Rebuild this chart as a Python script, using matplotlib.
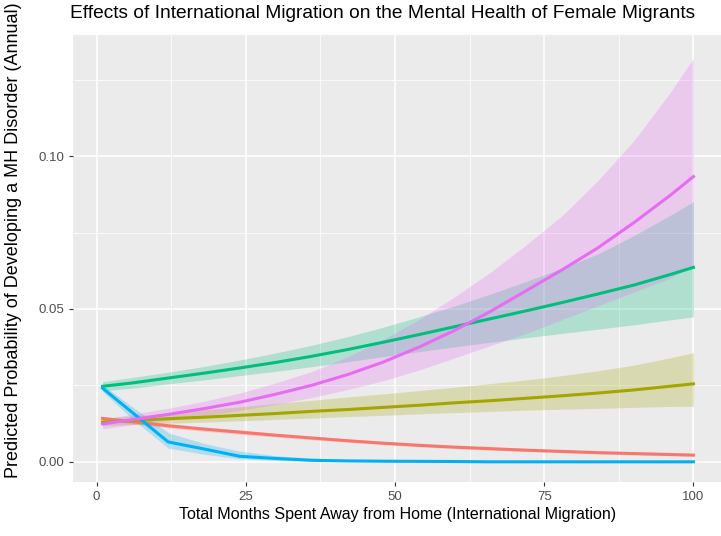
import matplotlib
matplotlib.use("Agg")
import matplotlib.pyplot as plt
from matplotlib.ticker import MultipleLocator, FuncFormatter

plt.rcParams['font.family'] = ['Liberation Sans', 'DejaVu Sans']

# Months at which predictions were evaluated
months = [1, 6, 12, 18, 24, 30, 36, 42, 48, 54, 60, 66, 72, 78, 84, 90, 96, 100]

# Predicted annual probability (fit, lower, upper) for each group
red_fit = [0.0142, 0.0131, 0.0118, 0.0107, 0.0097, 0.0087, 0.0078, 0.0069, 0.0061,
           0.0054, 0.0048, 0.0043, 0.0038, 0.0034, 0.0030, 0.0027, 0.0024, 0.0022]
red_lo = [0.0135, 0.0124, 0.0111, 0.0100, 0.0090, 0.0081, 0.0072, 0.0064, 0.0056,
          0.0049, 0.0043, 0.0038, 0.0034, 0.0030, 0.0026, 0.0023, 0.0020, 0.0018]
red_hi = [0.0149, 0.0138, 0.0125, 0.0114, 0.0104, 0.0093, 0.0084, 0.0075, 0.0066,
          0.0059, 0.0053, 0.0048, 0.0043, 0.0039, 0.0035, 0.0031, 0.0028, 0.0026]

olive_fit = [0.0130, 0.0135, 0.0141, 0.0146, 0.0152, 0.0158, 0.0165, 0.0171, 0.0178,
             0.0185, 0.0193, 0.0200, 0.0208, 0.0216, 0.0225, 0.0235, 0.0247, 0.0255]
olive_lo = [0.0118, 0.0122, 0.0126, 0.0130, 0.0134, 0.0139, 0.0143, 0.0148, 0.0152,
            0.0157, 0.0161, 0.0165, 0.0169, 0.0172, 0.0175, 0.0178, 0.0181, 0.0182]
olive_hi = [0.0142, 0.0150, 0.0160, 0.0170, 0.0180, 0.0191, 0.0201, 0.0212, 0.0222,
            0.0233, 0.0244, 0.0256, 0.0268, 0.0282, 0.0298, 0.0316, 0.0340, 0.0357]

green_fit = [0.0247, 0.0258, 0.0274, 0.0290, 0.0307, 0.0325, 0.0345, 0.0367, 0.0391,
             0.0416, 0.0442, 0.0468, 0.0494, 0.0521, 0.0549, 0.0578, 0.0612, 0.0636]
green_lo = [0.0232, 0.0241, 0.0255, 0.0268, 0.0282, 0.0296, 0.0311, 0.0327, 0.0344,
            0.0360, 0.0376, 0.0391, 0.0406, 0.0420, 0.0434, 0.0448, 0.0464, 0.0474]
green_hi = [0.0262, 0.0276, 0.0293, 0.0312, 0.0333, 0.0356, 0.0381, 0.0409, 0.0440,
            0.0474, 0.0510, 0.0549, 0.0590, 0.0634, 0.0680, 0.0740, 0.0805, 0.0851]

blue_fit = [0.0241, 0.0161, 0.0065, 0.0042, 0.0018, 0.0011, 0.0005, 0.0003, 0.0002,
            0.00015, 0.0001, 0.0, 0.0, 0.0, 0.0, 0.0, 0.0, 0.0]
blue_lo = [0.0230, 0.0140, 0.0045, 0.0025, 0.0010, 0.0005, 0.0002, 0.0001, 0.0001,
           0.0, 0.0, 0.0, 0.0, 0.0, 0.0, 0.0, 0.0, 0.0]
blue_hi = [0.0252, 0.0180, 0.0095, 0.0060, 0.0035, 0.0020, 0.0012, 0.0008, 0.0005,
           0.0003, 0.0002, 0.0001, 0.0001, 0.0001, 0.0001, 0.0001, 0.0001, 0.0001]

pink_fit = [0.0124, 0.0138, 0.0155, 0.0174, 0.0195, 0.0221, 0.0250, 0.0285, 0.0326,
            0.0375, 0.0430, 0.0492, 0.0560, 0.0628, 0.0700, 0.0782, 0.0870, 0.0933]
pink_lo = [0.0108, 0.0121, 0.0135, 0.0151, 0.0168, 0.0188, 0.0210, 0.0236, 0.0265,
           0.0300, 0.0340, 0.0380, 0.0420, 0.0465, 0.0510, 0.0555, 0.0600, 0.0640]
pink_hi = [0.0140, 0.0156, 0.0175, 0.0198, 0.0225, 0.0258, 0.0295, 0.0343, 0.0400,
           0.0465, 0.0540, 0.0620, 0.0710, 0.0805, 0.0920, 0.1050, 0.1205, 0.1320]

groups = [
    (red_fit, red_lo, red_hi, "#F8766D"),
    (olive_fit, olive_lo, olive_hi, "#A3A500"),
    (green_fit, green_lo, green_hi, "#00BF7D"),
    (blue_fit, blue_lo, blue_hi, "#00B0F6"),
    (pink_fit, pink_lo, pink_hi, "#E76BF3"),
]

W, H = 721, 536
fig = plt.figure(figsize=(W / 100, H / 100), dpi=100)
ax = fig.add_axes([73 / W, 1 - 482 / H, (723 - 73) / W, (482 - 35) / H])
ax.set_facecolor("#EBEBEB")

for fit, lo, hi, col in groups:
    ax.fill_between(months, lo, hi, color=col, alpha=0.25, linewidth=0, zorder=2)
for fit, lo, hi, col in groups:
    ax.plot(months, fit, color=col, lw=2.2, zorder=3, solid_joinstyle="round")

ax.set_xlim(-3.95, 104.95)
ax.set_ylim(-0.0066, 0.1396)
ax.xaxis.set_major_locator(MultipleLocator(25))
ax.xaxis.set_minor_locator(MultipleLocator(12.5))
ax.yaxis.set_major_locator(MultipleLocator(0.05))
ax.yaxis.set_minor_locator(MultipleLocator(0.025))
ax.xaxis.set_major_formatter(FuncFormatter(lambda v, p: f"{v:.0f}"))
ax.yaxis.set_major_formatter(FuncFormatter(lambda v, p: f"{v:.2f}"))

ax.grid(which="major", color="white", lw=1.1, zorder=0)
ax.grid(which="minor", color="white", lw=0.55, zorder=0)
ax.set_axisbelow(True)
for s in ax.spines.values():
    s.set_visible(False)
ax.tick_params(which="major", length=3, width=0.8, color="#333333",
               labelcolor="#4D4D4D", labelsize=9.5)
ax.tick_params(which="minor", length=0)

ax.set_xlabel("Total Months Spent Away from Home (International Migration)",
              fontsize=11.5, color="black", labelpad=3)
ax.set_ylabel("Predicted Probability of Developing a MH Disorder (Annual)",
              fontsize=13, color="black")
ax.yaxis.set_label_coords(-51 / 650, 0.54)
fig.text(70 / W, 1 - 14 / H,
         "Effects of International Migration on the Mental Health of Female Migrants",
         fontsize=13.8, ha="left", va="center", color="black")

fig.savefig("out.png", dpi=100)
